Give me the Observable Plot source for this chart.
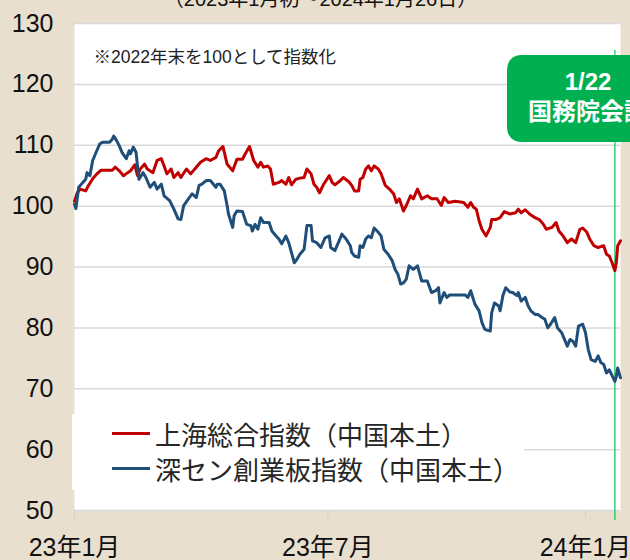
<!DOCTYPE html>
<html>
<head>
<meta charset="utf-8">
<script src="https://cdn.jsdelivr.net/npm/d3@7"></script>
<script src="https://cdn.jsdelivr.net/npm/@observablehq/plot@0.6"></script>
<style>
  html, body { margin: 0; padding: 0; background: #e8dfcf; }
  #wrap { position: relative; width: 630px; height: 560px; overflow: hidden; }
  #legend { position: absolute; left: 72px; top: 414px; width: 452px; height: 76px; background: #fff;
    font-family: "Noto Sans CJK JP", sans-serif; font-size: 26px; color: #262626; }
  .row { position: absolute; left: 40px; height: 30px; display: flex; align-items: center; }
  .sw { width: 38px; height: 3px; margin-right: 5px; }
  #callout { position: absolute; left: 507px; top: 55px; width: 162px; height: 87px; border-radius: 14px;
    background: #00b050; color: #fff; text-align: center; font-weight: bold; font-size: 24px; line-height: 30px;
    font-family: "Liberation Sans", "Noto Sans CJK JP", sans-serif; box-sizing: border-box; padding-top: 12px; }
</style>
</head>
<body>
<div id="wrap"></div>
<script>
// ---- data (day offset from 2023-01-01, index value; 2022年末 = 100) ----
const startDate = new Date(2023, 0, 1);
const endDate = new Date(2024, 0, 26);
const eventDate = new Date(2024, 0, 22);

const seriesNames = ["上海総合指数（中国本土）", "深セン創業板指数（中国本土）"];
const seriesColors = ["#c00000", "#1f4e79"];

const shanghai = [[0,100.8],[2,102.2],[4,102.8],[8,102.5],[10,103.4],[13,104.5],[16,105.3],[19,105.9],[27,105.9],[29,106.4],[32,105.8],[35,105.0],[38,105.5],[40,105.8],[43,106.8],[45,105.0],[47,106.1],[50,106.9],[52,106.1],[56,105.5],[59,107.5],[62,107.8],[64,106.6],[66,105.3],[69,106.1],[71,104.7],[74,105.5],[76,104.7],[80,106.1],[83,105.3],[87,106.4],[90,107.2],[94,107.8],[97,107.5],[101,108.0],[103,109.1],[106,109.8],[109,106.9],[113,105.8],[116,107.7],[120,107.7],[122,108.6],[125,109.8],[128,107.5],[131,106.4],[133,107.2],[135,106.4],[138,106.6],[140,106.1],[142,103.6],[146,103.9],[148,104.2],[151,103.6],[153,104.7],[155,103.5],[158,104.4],[161,104.6],[164,104.7],[166,106.1],[169,105.3],[171,103.6],[173,103.1],[175,102.2],[178,103.6],[182,105.0],[184,103.9],[186,103.5],[190,104.2],[192,104.7],[196,104.0],[198,103.4],[200,102.5],[203,102.5],[204,104.4],[206,104.7],[208,106.1],[210,106.6],[212,105.8],[214,106.6],[217,106.1],[219,105.3],[222,103.4],[225,102.8],[228,102.0],[230,100.6],[232,101.2],[235,99.2],[237,100.1],[240,101.7],[242,101.2],[245,102.8],[248,101.2],[252,101.7],[255,101.2],[259,101.2],[262,100.1],[264,101.4],[267,100.6],[272,100.8],[278,100.6],[281,99.8],[283,100.6],[285,99.8],[287,99.5],[289,97.6],[291,96.2],[294,95.1],[297,96.5],[298,97.8],[301,97.8],[304,98.1],[307,99.1],[311,98.7],[315,98.9],[317,99.5],[319,98.9],[322,99.4],[325,98.7],[329,98.1],[332,97.8],[335,97.0],[337,96.2],[341,96.5],[344,97.3],[346,95.9],[349,95.1],[352,94.0],[355,94.6],[358,94.0],[361,96.2],[363,96.4],[366,95.7],[368,94.6],[371,93.5],[374,93.2],[378,93.5],[380,92.1],[382,91.8],[384,90.7],[386,89.4],[387,90.7],[388,93.5],[390,94.3]];

const chinext = [[0,100.3],[1,99.6],[3,103.1],[6,103.9],[8,104.4],[9,105.5],[11,105.0],[13,107.5],[15,108.6],[18,110.2],[20,110.5],[25,110.5],[27,111.0],[28,111.5],[30,110.8],[32,109.9],[34,108.8],[37,107.8],[39,109.1],[40,108.6],[42,109.7],[44,108.8],[46,104.4],[49,105.5],[51,104.7],[54,103.1],[57,103.9],[59,102.8],[62,103.6],[64,101.7],[68,100.9],[71,99.5],[74,97.9],[76,97.8],[78,100.1],[82,101.4],[84,102.0],[87,101.4],[89,103.4],[91,103.6],[94,104.2],[97,104.2],[101,103.1],[102,103.6],[104,103.6],[107,102.5],[109,100.1],[110,98.7],[113,96.5],[114,98.4],[116,99.2],[120,99.1],[123,97.0],[126,96.8],[127,95.9],[129,97.0],[131,96.2],[133,98.1],[135,97.3],[139,97.3],[141,95.9],[144,95.1],[146,94.6],[148,93.8],[151,95.1],[153,94.0],[157,90.7],[159,91.3],[161,92.1],[164,92.9],[166,96.8],[169,96.8],[170,94.3],[173,94.0],[176,93.2],[179,94.8],[182,95.1],[183,93.2],[186,92.7],[189,94.3],[191,95.4],[194,94.6],[197,93.5],[198,92.4],[200,91.8],[203,91.6],[204,93.5],[206,93.2],[208,94.6],[210,95.1],[212,94.8],[214,96.4],[217,95.7],[219,95.1],[221,92.9],[224,92.1],[227,91.0],[229,89.6],[231,88.8],[233,87.2],[235,87.4],[237,88.0],[239,90.2],[242,89.6],[245,90.2],[248,87.7],[252,87.7],[255,85.8],[258,86.1],[260,86.6],[261,84.1],[264,85.8],[266,85.0],[268,85.4],[274,85.4],[279,85.4],[281,85.0],[283,86.1],[286,83.9],[289,82.8],[291,80.9],[293,79.8],[295,79.6],[297,79.5],[298,82.5],[300,84.1],[303,83.6],[304,82.8],[306,85.3],[308,86.6],[311,85.9],[313,85.8],[316,85.3],[317,85.8],[319,84.4],[322,85.0],[324,83.6],[326,82.8],[329,82.2],[331,82.2],[334,81.7],[336,81.4],[338,80.0],[340,80.6],[343,81.7],[345,80.0],[348,79.2],[350,78.1],[352,77.0],[354,78.1],[356,77.8],[358,77.0],[360,80.3],[363,80.6],[365,79.2],[367,76.4],[369,74.8],[372,74.5],[374,75.4],[376,74.3],[378,74.0],[380,72.6],[382,73.1],[386,71.2],[387,72.0],[388,73.4],[390,71.8]];

const yTicks = [50, 60, 70, 80, 90, 100, 110, 120, 130];
const xTickDates = [new Date(2023, 0, 1), new Date(2023, 6, 1), new Date(2024, 0, 1)];
const xTickLabels = ["23年1月", "23年7月", "24年1月"];
const subtitle = "（2023年1月初～2024年1月26日）";
const note = "※2022年末を100として指数化";
const calloutLines = ["1/22", "国務院会議"];

// ---- build ----
const toRows = (arr, name) => arr.map(([d, v]) => ({date: d3.timeDay.offset(startDate, d), value: v, name}));
const rows = [...toRows(shanghai, seriesNames[0]), ...toRows(chinext, seriesNames[1])];
const labelMap = new Map(xTickDates.map((d, i) => [+d, xTickLabels[i]]));
const green = "#00c853";

const chart = Plot.plot({
  width: 630, height: 560,
  marginLeft: 74, marginRight: 10, marginTop: 23, marginBottom: 50,
  style: {background: "#e8dfcf", color: "#111", fontFamily: "'Liberation Sans', 'Noto Sans CJK JP', sans-serif", fontSize: "25px", overflow: "hidden"},
  x: {type: "time", domain: [startDate, endDate], label: null},
  y: {domain: [50, 130], label: null},
  color: {domain: seriesNames, range: seriesColors},
  marks: [
    Plot.frame({fill: "white", stroke: "none"}),
    Plot.ruleY(yTicks, {stroke: "#d9d9d9", strokeWidth: 1.5}),
    Plot.axisY({ticks: yTicks, tickSize: 0, tickPadding: 21, fontSize: 25, label: null}),
    Plot.axisX({ticks: xTickDates, tickFormat: d => labelMap.get(+d), tickSize: 8, tickPadding: 20, stroke: "#cfcfcf", fontSize: 25, label: null}),
    Plot.ruleX([eventDate], {stroke: green, strokeWidth: 1.2, insetTop: 27, insetBottom: -10}),
    Plot.line(rows, {x: "date", y: "value", z: "name", stroke: "name", strokeWidth: 3, strokeLinejoin: "round"}),
    Plot.text([note], {frameAnchor: "top-left", dx: 19, dy: 34, textAnchor: "start", lineAnchor: "middle", fontSize: 17.5, fill: "#222"}),
    Plot.text([subtitle], {frameAnchor: "top", dx: -27, dy: -18, lineAnchor: "bottom", fontSize: 20, fill: "#111"})
  ]
});

const wrap = document.getElementById("wrap");
wrap.appendChild(chart);

const legend = document.createElement("div");
legend.id = "legend";
seriesNames.forEach((n, i) => {
  const row = document.createElement("div");
  row.className = "row";
  row.style.top = (4 + i * 35) + "px";
  const sw = document.createElement("div");
  sw.className = "sw";
  sw.style.background = seriesColors[i];
  const tx = document.createElement("span");
  tx.textContent = n;
  row.appendChild(sw); row.appendChild(tx);
  legend.appendChild(row);
});
wrap.appendChild(legend);

const callout = document.createElement("div");
callout.id = "callout";
callout.innerHTML = calloutLines.map(s => `<div>${s}</div>`).join("");
wrap.appendChild(callout);
</script>
</body>
</html>
